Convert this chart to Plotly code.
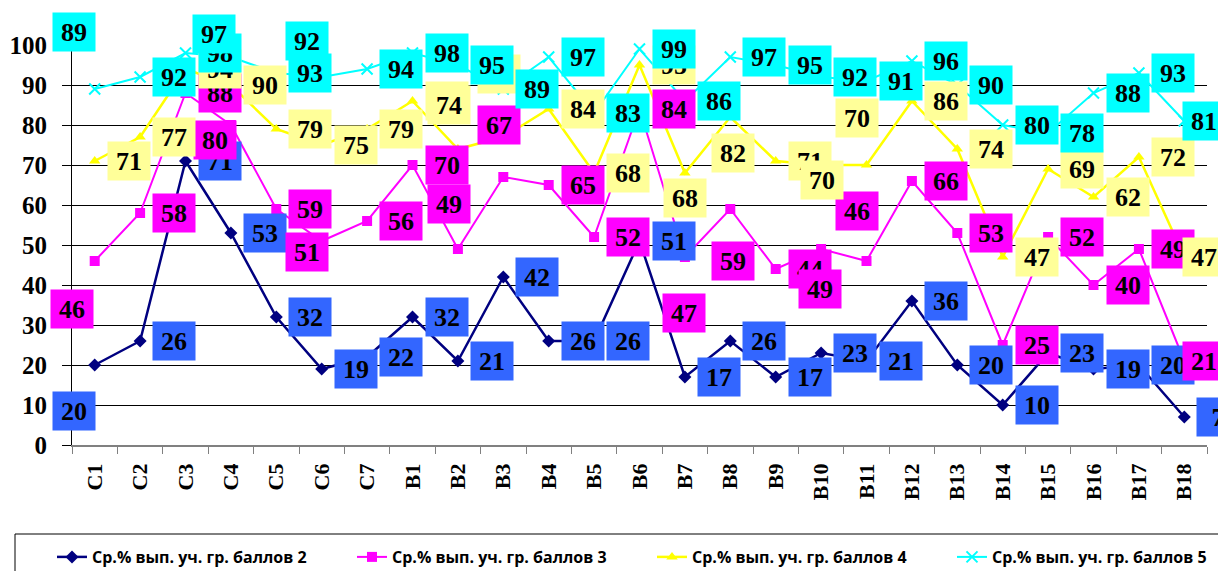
import plotly.graph_objects as go

# categories: 7 "С" tasks and 18 "В" tasks
cats = ["С1", "С2", "С3", "С4", "С5", "С6", "С7"] + [f"В{i}" for i in range(1, 19)]

# average % of completion by group of students (grade 2..5)
grade2 = [20, 26, 71, 53, 32, 19, 22, 32, 21, 42, 26, 26, 51, 17, 26, 17, 23, 21, 36, 20, 10, 23, 19, 20, 7]
grade3 = [46, 58, 88, 80, 59, 51, 56, 70, 49, 67, 65, 52, 84, 47, 59, 44, 49, 46, 66, 53, 25, 52, 40, 49, 21]
grade4 = [71, 77, 94, 90, 79, 75, 79, 86, 74, 77, 84, 68, 95, 68, 82, 71, 70, 70, 86, 74, 47, 69, 62, 72, 47]
grade5 = [89, 92, 98, 97, 93, 92, 94, 98, 95, 89, 97, 83, 99, 86, 97, 95, 92, 91, 96, 90, 80, 78, 88, 93, 81]

names = [
    "Ср.% вып. уч. гр. баллов 2",
    "Ср.% вып. уч. гр. баллов 3",
    "Ср.% вып. уч. гр. баллов 4",
    "Ср.% вып. уч. гр. баллов 5",
]

SERIF = "Liberation Serif, Times New Roman, serif"

# line colour, label background, marker symbol, line width
styles = [
    ("#000080", "#3366FF", "diamond", 2.5),
    ("#FF00FF", "#FF00FF", "square", 2),
    ("#FFFF00", "#FFFF99", "triangle-up", 2.5),
    ("#00FFFF", "#00FFFF", "x-thin", 2),
]

# labels are normally put to the right of the point, a few were
# dragged around in the original chart (dx, dy in px, dy down)
label_moves = [
    {0: (-21, 46)},
    {0: (-23, 48), 3: (-16, 15), 5: (-15, 11), 8: (-9, -45), 9: (-4, -52),
     13: (-1, 56), 14: (3, 52), 16: (-1, 40), 17: (-10, -50), 24: (20, 0)},
    {8: (-9, -44), 9: (-4, -63), 13: (0, 25), 14: (3, 36), 16: (1, 15),
     17: (-10, -47), 24: (20, 0)},
    {0: (-21, -57), 3: (-17, -23), 5: (-15, -36), 24: (20, 0)},
]

fig = go.Figure()

for vals, name, (color, bg, symbol, lw) in zip([grade2, grade3, grade4, grade5], names, styles):
    marker = dict(symbol=symbol, size=10, color=color)
    if symbol == "x-thin":
        marker.update(size=11, line=dict(color=color, width=2))
    fig.add_trace(
        go.Scatter(
            x=cats, y=vals, name=name, mode="lines+markers",
            line=dict(color=color, width=lw), marker=marker, cliponaxis=False,
        )
    )

# data labels drawn after all lines so they sit on top
for vals, (color, bg, symbol, lw), moves in zip([grade2, grade3, grade4, grade5], styles, label_moves):
    for i, v in enumerate(vals):
        dx, dy = moves.get(i, (34, 0))
        fig.add_annotation(
            x=cats[i], y=v, text=str(v), showarrow=False,
            xshift=dx, yshift=-dy, width=40, height=36, borderpad=1,
            bgcolor=bg, font=dict(family=SERIF, size=26, color="black", weight="bold"),
        )

# legend frame, runs off the bottom/right edge like the original
fig.add_shape(
    type="rect", xref="paper", yref="paper",
    x0=(15 - 72) / 1135, x1=(1240 - 72) / 1135,
    y0=(445 - 534) / 400, y1=(445 - 590) / 400,
    line=dict(color="black", width=1), fillcolor="rgba(0,0,0,0)",
)

fig.update_layout(
    width=1218, height=571,
    margin=dict(l=72, r=11, t=45, b=126, autoexpand=False),
    plot_bgcolor="white", paper_bgcolor="white",
    showlegend=True,
    legend=dict(
        orientation="h", x=(52 - 72) / 1135, xanchor="left",
        y=(445 - 540) / 400, yanchor="top",
        entrywidth=255, entrywidthmode="pixels",
        font=dict(family="Open Sans, sans-serif", size=16, color="black", weight="bold"),
        bgcolor="rgba(0,0,0,0)", borderwidth=0,
    ),
)

fig.update_yaxes(
    range=[0, 100], dtick=10, showgrid=True, gridcolor="black", gridwidth=1,
    zeroline=False, showline=True, linecolor="black", linewidth=1,
    ticks="outside", ticklen=9, tickcolor="black", ticklabelstandoff=10,
    tickfont=dict(family=SERIF, size=25, color="black", weight="bold"),
)
# explicit range: annotations would otherwise widen the category axis
fig.update_xaxes(
    type="category", range=[-0.5, len(cats) - 0.5],
    showgrid=False, showline=True, linecolor="#808080", linewidth=1.5,
    ticks="outside", tickson="boundaries", ticklen=7, tickcolor="#808080",
    tickangle=-90, ticklabelstandoff=8,
    tickfont=dict(family=SERIF, size=22, color="black", weight="bold"),
)

fig.write_html(
    "out.html",
    config={"displayModeBar": False},
    post_script="document.body.style.margin = '0';",
)
